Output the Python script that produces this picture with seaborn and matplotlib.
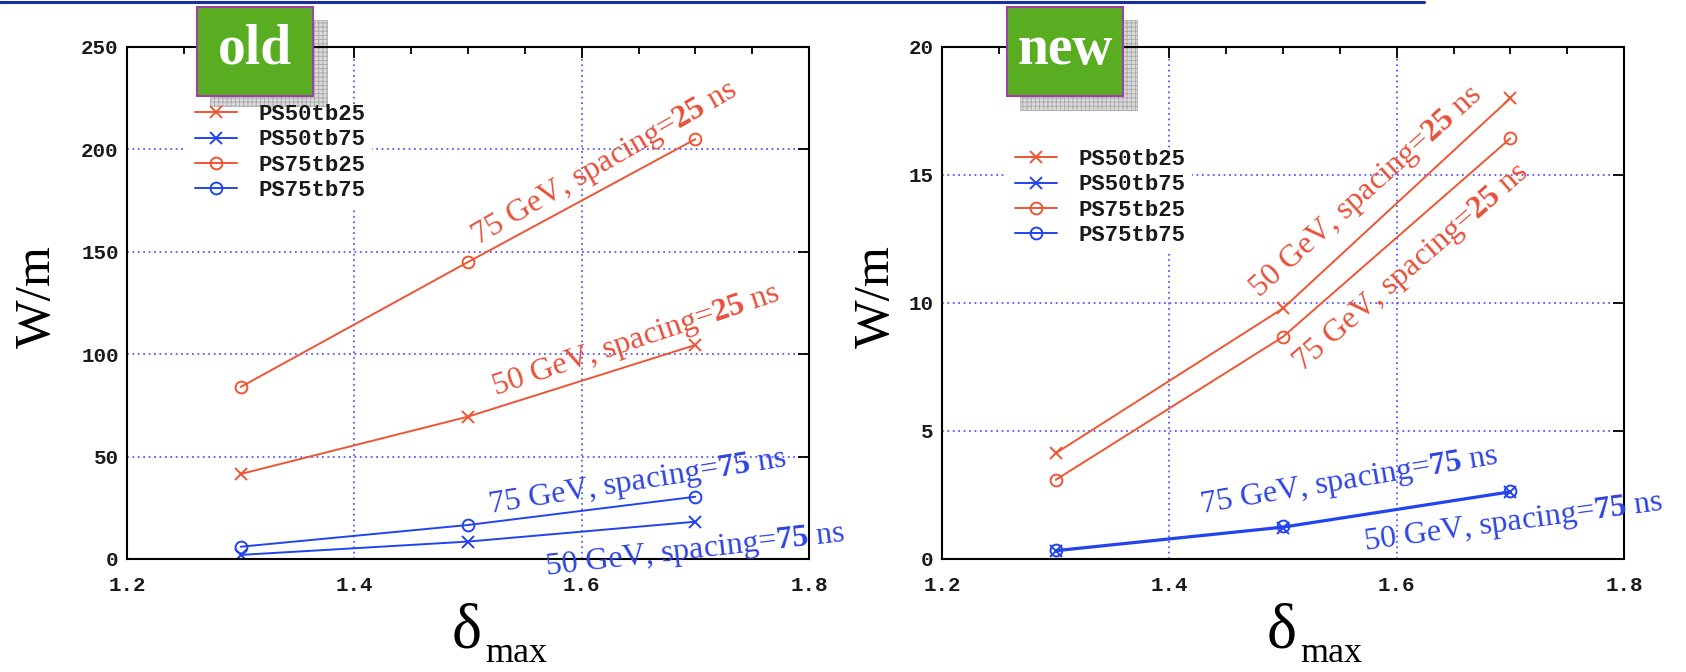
import numpy as np
import pandas as pd
import matplotlib
matplotlib.use("Agg")
import matplotlib.pyplot as plt
import seaborn as sns
from matplotlib.patches import Rectangle
from matplotlib.lines import Line2D
from matplotlib.ticker import MultipleLocator

# ---------------- data ----------------
delta_max = [1.3, 1.5, 1.7]
series_names = ["PS50tb25", "PS50tb75", "PS75tb25", "PS75tb75"]

old_ps50tb25 = [41.5, 69.5, 104.5]
old_ps50tb75 = [2.0, 8.5, 18.2]
old_ps75tb25 = [84.0, 145.0, 205.0]
old_ps75tb75 = [6.0, 16.6, 30.4]

new_ps50tb25 = [4.13, 9.79, 18.0]
new_ps50tb75 = [0.30, 1.22, 2.60]
new_ps75tb25 = [3.09, 8.68, 16.43]
new_ps75tb75 = [0.35, 1.27, 2.65]

old_yticks = [0, 50, 100, 150, 200, 250]
new_yticks = [0, 5, 10, 15, 20]
xticks = [1.2, 1.4, 1.6, 1.8]

# curve labels: (text, spacing number, colour key, x, y, angle)
old_notes = [
    ("75 GeV, spacing=", "25", "red", 1.508, 153.0, 30.0),
    ("50 GeV, spacing=", "25", "red", 1.524, 80.0, 18.5),
    ("75 GeV, spacing=", "75", "blue", 1.519, 22.5, 9.0),
    ("50 GeV, spacing=", "75", "blue", 1.569, -7.8, 6.5),
]
new_notes = [
    ("50 GeV, spacing=", "25", "red", 1.479, 10.2, 42.0),
    ("75 GeV, spacing=", "25", "red", 1.517, 7.3, 41.0),
    ("75 GeV, spacing=", "75", "blue", 1.428, 1.8, 9.5),
    ("50 GeV, spacing=", "75", "blue", 1.572, 0.35, 7.7),
]

# ---------------- style ----------------
W, H = 1686, 672
sns.set_theme(style="white")
plt.rcParams["font.family"] = ["Liberation Serif", "DejaVu Serif"]
plt.rcParams["mathtext.fontset"] = "custom"
plt.rcParams["mathtext.rm"] = "Liberation Serif"
plt.rcParams["mathtext.it"] = "Liberation Serif:italic"
plt.rcParams["mathtext.bf"] = "Liberation Serif:bold"
plt.rcParams["hatch.linewidth"] = 0.6

RED = "#ee5533"
BLUE = "#2244ee"
TXT = {"red": "#e8503a", "blue": "#2f45e0"}
GRID = "#5a5aff"
MONO = "Liberation Mono"

styles = {
    "PS50tb25": (RED, "x"),
    "PS50tb75": (BLUE, "x"),
    "PS75tb25": (RED, "o"),
    "PS75tb75": (BLUE, "o"),
}


def fx(px):
    return px / W


def fy(py):
    return 1 - py / H


fig = plt.figure(figsize=(W / 100, H / 100), dpi=100)
fig.patch.set_facecolor("white")
ax_old = fig.add_axes([fx(127), fy(559), 682 / W, 512 / H])
ax_new = fig.add_axes([fx(942), fy(559), 682 / W, 512 / H])


def draw_panel(ax, values, yticks, ymax, notes, legend_xy):
    ax.patch.set_alpha(0)
    for name, yv in zip(series_names, values):
        color, marker = styles[name]
        df = pd.DataFrame({"delta": delta_max, "W": yv})
        sns.lineplot(
            data=df, x="delta", y="W", ax=ax, color=color, linewidth=1.4,
            marker=marker, markersize=9 if marker == "x" else 8.5,
            markerfacecolor="none", markeredgecolor=color,
            markeredgewidth=1.4, label=name, legend=False,
        )
    ax.set_xlim(1.2, 1.8)
    ax.set_ylim(0, ymax)
    ax.set_xticks(xticks)
    ax.set_xticklabels([f"{t:.1f}" for t in xticks])
    ax.set_yticks(yticks)
    ax.set_yticklabels([str(t) for t in yticks])
    ax.xaxis.set_minor_locator(MultipleLocator(0.05))
    ax.set_xlabel("")
    ax.set_ylabel("")
    ax.grid(True, which="major", color=GRID, linestyle=(0, (1, 2)), linewidth=1.3)
    ax.tick_params(which="both", direction="in", top=True, right=True,
                   color="black", width=1.3)
    ax.tick_params(which="major", length=8)
    ax.tick_params(which="minor", length=5)
    ax.tick_params(axis="x", which="major", pad=12)
    ax.tick_params(axis="y", which="major", pad=6)
    for lab in ax.get_xticklabels() + ax.get_yticklabels():
        lab.set_fontfamily(MONO)
        lab.set_fontsize(15)
        lab.set_fontweight("bold")
        lab.set_color("#1a1a1a")
    for sp in ax.spines.values():
        sp.set_visible(True)
        sp.set_color("black")
        sp.set_linewidth(1.5)

    for text, num, ckey, x, y, ang in notes:
        ax.text(x, y, text + r"$\mathbf{" + num + "}$" + " ns",
                color=TXT[ckey], fontsize=23, rotation=ang,
                rotation_mode="anchor", ha="left", va="baseline",
                clip_on=False, zorder=6)

    leg = ax.legend(
        loc="upper left", bbox_to_anchor=(fx(legend_xy[0]), fy(legend_xy[1])),
        bbox_transform=fig.transFigure, frameon=True, fancybox=False,
        borderpad=0.4, borderaxespad=0, handlelength=1.9, handletextpad=0.95,
        labelspacing=0.2, prop={"family": MONO, "size": 16, "weight": "bold"},
    )
    leg.get_frame().set_facecolor("white")
    leg.get_frame().set_edgecolor("none")
    leg.get_frame().set_alpha(0)
    for t in leg.get_texts():
        t.set_color("#1a1a1a")
    # white backing behind the key so the grid breaks around it
    bb_x0, bb_y0 = legend_xy[0], legend_xy[1] + 12
    ax.add_patch(Rectangle((fx(bb_x0), fy(bb_y0 + 100)), 186 / W, 100 / H,
                           transform=fig.transFigure, facecolor="white",
                           edgecolor="none", zorder=2.2))


draw_panel(ax_old, [old_ps50tb25, old_ps50tb75, old_ps75tb25, old_ps75tb75],
           old_yticks, 250, old_notes, (186, 95))
draw_panel(ax_new, [new_ps50tb25, new_ps50tb75, new_ps75tb25, new_ps75tb75],
           new_yticks, 20, new_notes, (1006, 140))

# axis titles
for x0, ylx in [(127, 38), (942, 877)]:
    fig.text(fx(ylx), fy(297), "W/m", rotation=90, ha="center", va="center",
             fontsize=37, color="black")
    fig.text(fx(x0 + 325), fy(647), "\u03b4", fontsize=46, ha="left",
             va="baseline", color="black")
    fig.text(fx(x0 + 358), fy(662), "max", fontsize=26, ha="left",
             va="baseline", color="black")

# header rule
fig.add_artist(Line2D([0, fx(1424)], [fy(1.5), fy(1.5)], transform=fig.transFigure,
                      color="#1a2f9f", linewidth=2.2, zorder=20))

# tags: the chequered shadow sits behind the plot frame, the green tag above it
for left, word in [(197, "old"), (1007, "new")]:
    shadow = Rectangle((fx(left + 13), fy(110)), 117 / W, 90 / H,
                       transform=fig.transFigure, facecolor="#dadada",
                       edgecolor="#a8a8a8", hatch="++++", linewidth=0.5,
                       zorder=-1)
    fig.add_artist(shadow)
    box = Rectangle((fx(left), fy(96)), 116 / W, 89 / H,
                    transform=fig.transFigure, facecolor="#58ad21",
                    edgecolor="#a040a8", linewidth=1.5, zorder=21)
    fig.add_artist(box)
    fig.text(fx(left + 58), fy(50), word, color="white", fontsize=40,
             fontweight="bold", ha="center", va="center", zorder=22)

fig.savefig("out.png", dpi=100, facecolor="white")
